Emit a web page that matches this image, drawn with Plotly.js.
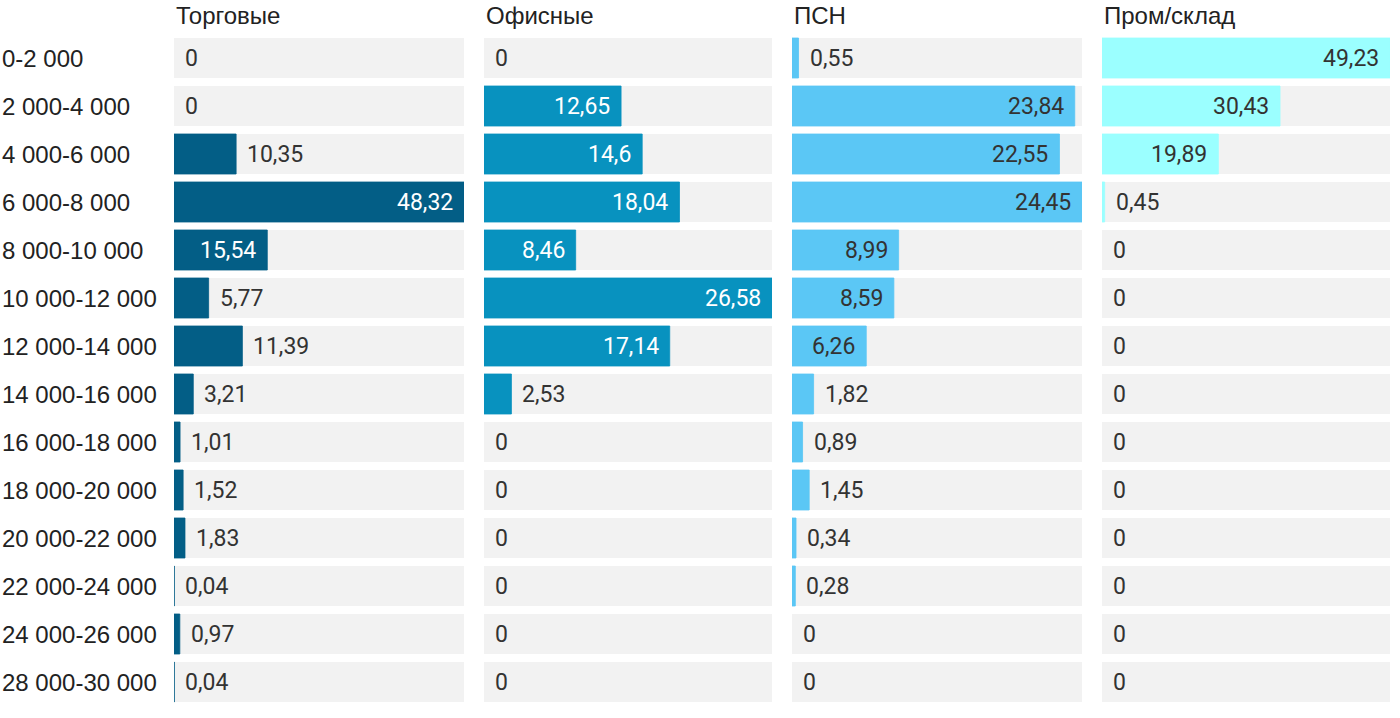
<!DOCTYPE html>
<html>
<head>
<meta charset="utf-8">
<script src="https://cdn.plot.ly/plotly-3.0.1.min.js"></script>
<style>html,body{margin:0;padding:0;background:#fff;}#chart{width:1400px;height:718px;}</style>
</head>
<body>
<div id="chart"></div>
<script>
var categories = ['0-2 000','2 000-4 000','4 000-6 000','6 000-8 000','8 000-10 000','10 000-12 000','12 000-14 000','14 000-16 000','16 000-18 000','18 000-20 000','20 000-22 000','22 000-24 000','24 000-26 000','28 000-30 000'];
var seriesNames = ['Торговые','Офисные','ПСН','Пром/склад'];
var torg = [0,0,10.35,48.32,15.54,5.77,11.39,3.21,1.01,1.52,1.83,0.04,0.97,0.04];
var ofis = [0,12.65,14.6,18.04,8.46,26.58,17.14,2.53,0,0,0,0,0,0];
var psn  = [0.55,23.84,22.55,24.45,8.99,8.59,6.26,1.82,0.89,1.45,0.34,0.28,0,0];
var prom = [49.23,30.43,19.89,0.45,0,0,0,0,0,0,0,0,0,0];

var series = [torg, ofis, psn, prom];
var colors = ['#035e86','#0892bf','#5bc7f5','#9bffff'];
var insideTextColors = ['#ffffff','#ffffff','#333333','#333333'];
var domains = [[174/1400,464/1400],[484/1400,772/1400],[792/1400,1082/1400],[1102/1400,1390/1400]];

var traces = [];
var annotations = [];
var layout = {
  width:1400, height:718,
  margin:{l:0,r:0,t:34,b:12},
  paper_bgcolor:'#ffffff', plot_bgcolor:'rgba(0,0,0,0)',
  barmode:'overlay', bargap:1/6,
  showlegend:false,
  hovermode:false,
  yaxis:{type:'category', autorange:'reversed', showticklabels:false, showgrid:false, zeroline:false, fixedrange:true, domain:[0,1]},
  annotations: annotations
};

series.forEach(function(vals, i){
  var ax = i === 0 ? 'x' : 'x' + (i+1);
  var axKey = i === 0 ? 'xaxis' : 'xaxis' + (i+1);
  var maxV = Math.max.apply(null, vals);
  layout[axKey] = {domain:domains[i], range:[0,maxV], visible:false, fixedrange:true, anchor:'y'};
  traces.push({type:'bar', orientation:'h', xaxis:ax, yaxis:'y', y:categories,
    x:categories.map(function(){return maxV;}), marker:{color:'#f2f2f2'}, hoverinfo:'skip'});
  traces.push({type:'bar', orientation:'h', xaxis:ax, yaxis:'y', y:categories, x:vals,
    marker:{color:colors[i], line:{color:colors[i], width:vals.map(function(v){return v > 0 ? 0.8 : 0;})}}, hoverinfo:'skip'});
  annotations.push({xref: ax + ' domain', yref:'paper', x:0, y:1, yshift:19, xanchor:'left', yanchor:'middle',
    text:seriesNames[i], showarrow:false, font:{family:'Liberation Sans, Arial, sans-serif', size:24, color:'#222222'}});
  vals.forEach(function(v, j){
    var inside = v / maxV >= 0.25;
    annotations.push({xref:ax, yref:'y', x:v, y:categories[j],
      xanchor: inside ? 'right' : 'left', xshift: inside ? -9 : 9, yanchor:'middle',
      text:String(v).replace('.', ','), showarrow:false,
      font:{family:'Roboto, sans-serif', size:23, color: inside ? insideTextColors[i] : '#333333'}});
  });
});

categories.forEach(function(c){
  annotations.push({xref:'paper', yref:'y', x:0, y:c, xanchor:'left', yanchor:'middle', xshift:0,
    text:c, showarrow:false, font:{family:'Liberation Sans, Arial, sans-serif', size:24, color:'#222222'}});
});

Plotly.newPlot('chart', traces, layout, {displayModeBar:false, staticPlot:true});
</script>
</body>
</html>
